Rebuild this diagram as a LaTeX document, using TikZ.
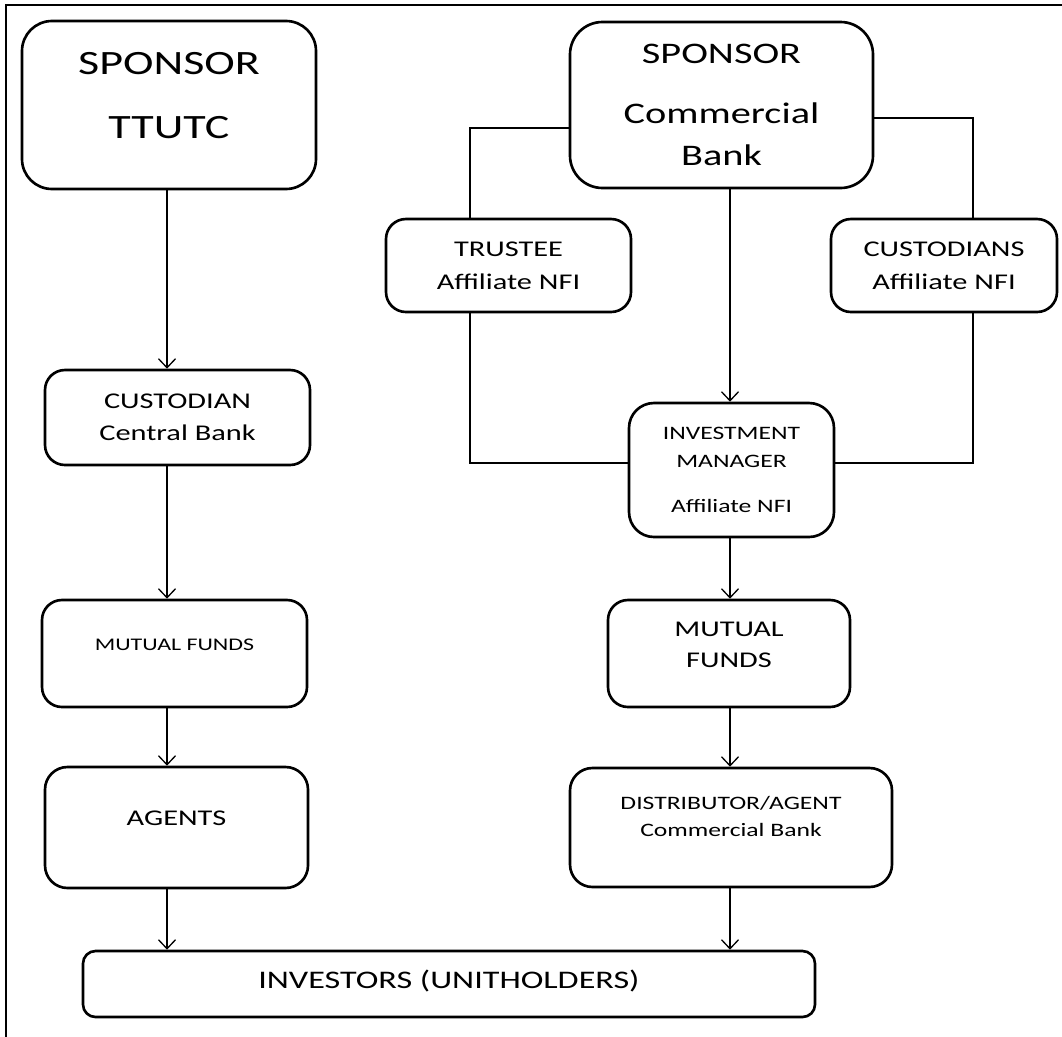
\documentclass[tikz,border=0pt]{standalone}
\usepackage{fontspec}
\setmainfont{Carlito}[FakeStretch=1.35]
\usetikzlibrary{arrows.meta}

\begin{document}
\begin{tikzpicture}[
  >={Straight Barb[length=1.8mm,width=3.4mm]},
  box/.style={draw,line width=1.5pt,align=center,inner sep=0pt},
  link/.style={line width=0.75pt}
]

\clip (0,0) rectangle (21.24,-20.72);
\draw[line width=1.4pt] (0.12,-0.10) rectangle (21.8,-21.4);

% -- columns and taps
\coordinate (colL) at (3.34,0);
\coordinate (colR) at (14.60,0);
\coordinate (tapL) at (9.40,-2.56);
\coordinate (tapR) at (19.46,-2.36);
\coordinate (tapM) at (0,-9.26);

% -- top row
\node[box,rounded corners=0.6cm,minimum width=5.88cm,minimum height=3.36cm,text depth=11pt,font=\fontsize{19.4}{36.4}\selectfont] (ttutc) at (3.38,-2.10) {SPONSOR\\TTUTC};
\node[box,rounded corners=0.65cm,minimum width=6.06cm,minimum height=3.32cm,font=\fontsize{17}{24}\selectfont] (cbank) at (14.43,-2.10) {SPONSOR\\[10pt]Commercial\\Bank};

% -- second row
\node[box,rounded corners=0.4cm,minimum width=4.9cm,minimum height=1.86cm,font=\fontsize{12.8}{19}\selectfont] (trustee) at (10.17,-5.31) {TRUSTEE\\Affiliate NFI};
\node[box,rounded corners=0.4cm,minimum width=4.52cm,minimum height=1.86cm,font=\fontsize{12.8}{19}\selectfont] (custodians) at (18.88,-5.31) {CUSTODIANS\\Affiliate NFI};

% -- third row
\node[box,rounded corners=0.4cm,minimum width=5.3cm,minimum height=1.9cm,font=\fontsize{12.8}{18.2}\selectfont] (custcb) at (3.55,-8.35) {CUSTODIAN\\Central Bank};
\node[box,rounded corners=0.5cm,minimum width=4.1cm,minimum height=2.68cm,font=\fontsize{10.8}{16}\selectfont] (invman) at (14.63,-9.40) {INVESTMENT\\MANAGER\\[9.7pt]Affiliate NFI};

% -- mutual funds
\node[box,rounded corners=0.4cm,minimum width=5.3cm,minimum height=2.14cm,text depth=9.7pt,font=\fontsize{10.1}{15}\selectfont] (mfleft) at (3.49,-13.07) {MUTUAL FUNDS};
\node[box,rounded corners=0.4cm,minimum width=4.84cm,minimum height=2.14cm,text depth=10.2pt,font=\fontsize{12.8}{17.6}\selectfont] (mfright) at (14.58,-13.07) {MUTUAL\\FUNDS};

% -- agents
\node[box,rounded corners=0.45cm,minimum width=5.26cm,minimum height=2.42cm,text depth=10.8pt,font=\fontsize{12.8}{18}\selectfont] (agents) at (3.53,-16.55) {AGENTS};
\node[box,rounded corners=0.45cm,minimum width=6.44cm,minimum height=2.38cm,text depth=12.5pt,font=\fontsize{10.8}{15.4}\selectfont] (distrib) at (14.62,-16.55) {DISTRIBUTOR/AGENT\\Commercial Bank};

% -- investors
\node[box,rounded corners=0.25cm,minimum width=14.64cm,minimum height=1.32cm,text depth=5.7pt,font=\fontsize{14.4}{18}\selectfont] (investors) at (8.98,-19.68) {INVESTORS (UNITHOLDERS)};

% -- draw arrows
\draw[link,->] (ttutc.south -| colL) -- (custcb.north -| colL);
\draw[link,->] (custcb.south -| colL) -- (mfleft.north -| colL);
\draw[link,->] (mfleft.south -| colL) -- (agents.north -| colL);
\draw[link,->] (agents.south -| colL) -- (investors.north -| colL);

\draw[link,->] (cbank.south -| colR) -- (invman.north -| colR);
\draw[link,->] (invman.south -| colR) -- (mfright.north -| colR);
\draw[link,->] (mfright.south -| colR) -- (distrib.north -| colR);
\draw[link,->] (distrib.south -| colR) -- (investors.north -| colR);

% -- side links
\draw[link] (cbank.west |- tapL) -| (trustee.north -| tapL);
\draw[link] (trustee.south -| tapL) |- (invman.west |- tapM);
\draw[link] (cbank.east |- tapR) -| (custodians.north -| tapR);
\draw[link] (custodians.south -| tapR) |- (invman.east |- tapM);
\end{tikzpicture}
\end{document}
